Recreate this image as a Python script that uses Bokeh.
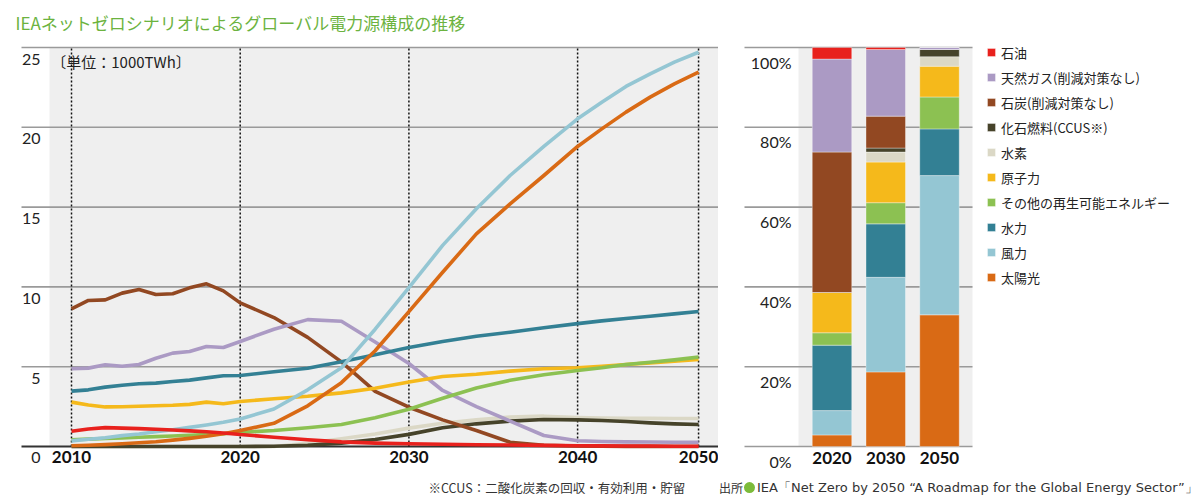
import numpy as np
from bokeh.plotting import figure
from bokeh.layouts import row
from bokeh.models import ColumnDataSource, Range1d, Legend, LegendItem, BoxAnnotation
from bokeh.core.properties import value
from bokeh.embed import file_html
from bokeh.resources import INLINE

# ---------------- data (1000 TWh) ----------------
years = [2010, 2011, 2012, 2013, 2014, 2015, 2016, 2017, 2018, 2019, 2020,
         2022, 2024, 2026, 2028, 2030, 2032, 2034, 2036, 2038, 2040,
         2042, 2044, 2046, 2048, 2050]

oil = [0.95, 1.10, 1.18, 1.15, 1.12, 1.08, 1.03, 0.98, 0.92, 0.85, 0.75,
       0.58, 0.42, 0.29, 0.21, 0.17, 0.14, 0.11, 0.09, 0.07, 0.05,
       0.04, 0.03, 0.03, 0.02, 0.02]
gas = [4.87, 4.91, 5.12, 5.03, 5.14, 5.53, 5.85, 5.95, 6.27, 6.20, 6.58,
       7.35, 7.95, 7.85, 6.55, 5.20, 3.51, 2.50, 1.59, 0.69, 0.36,
       0.31, 0.29, 0.28, 0.27, 0.27]
coal = [8.63, 9.15, 9.19, 9.61, 9.84, 9.52, 9.57, 9.94, 10.19, 9.75, 9.00,
        8.08, 6.84, 5.30, 3.45, 2.46, 1.67, 1.00, 0.27, 0.08, 0.03,
        0.02, 0.01, 0.01, 0.00, 0.00]
ccus = [0.00, 0.00, 0.00, 0.00, 0.00, 0.00, 0.00, 0.00, 0.00, 0.00, 0.00,
        0.02, 0.08, 0.21, 0.44, 0.76, 1.17, 1.42, 1.59, 1.69, 1.67,
        1.63, 1.57, 1.48, 1.42, 1.38]
hydrogen = [0.00, 0.00, 0.00, 0.00, 0.00, 0.00, 0.00, 0.00, 0.00, 0.00, 0.00,
            0.00, 0.20, 0.48, 0.78, 1.15, 1.46, 1.67, 1.84, 1.90, 1.82,
            1.78, 1.77, 1.76, 1.75, 1.75]
nuclear = [2.78, 2.60, 2.48, 2.49, 2.52, 2.55, 2.58, 2.64, 2.78, 2.68, 2.82,
           2.99, 3.15, 3.36, 3.65, 4.04, 4.39, 4.53, 4.72, 4.87, 4.93,
           5.03, 5.14, 5.24, 5.35, 5.45]
other_re = [0.42, 0.46, 0.50, 0.54, 0.58, 0.62, 0.66, 0.70, 0.75, 0.80, 0.88,
            1.00, 1.17, 1.38, 1.80, 2.33, 3.02, 3.66, 4.15, 4.50, 4.76,
            4.93, 5.14, 5.28, 5.43, 5.60]
hydro = [3.47, 3.55, 3.72, 3.84, 3.93, 3.97, 4.07, 4.16, 4.30, 4.43, 4.45,
         4.68, 4.90, 5.31, 5.75, 6.20, 6.58, 6.91, 7.16, 7.44, 7.70,
         7.87, 8.02, 8.16, 8.31, 8.46]
wind = [0.35, 0.45, 0.55, 0.68, 0.78, 0.92, 1.05, 1.20, 1.35, 1.52, 1.72,
        2.35, 3.55, 4.93, 7.35, 9.95, 12.60, 14.90, 16.98, 18.80, 20.53,
        21.57, 22.56, 23.35, 24.08, 24.70]
solar = [0.05, 0.08, 0.12, 0.17, 0.23, 0.30, 0.40, 0.51, 0.64, 0.80, 1.00,
         1.45, 2.55, 4.00, 6.00, 8.45, 10.92, 13.32, 15.20, 16.98, 18.80,
         19.90, 20.95, 21.89, 22.72, 23.45]

# shares (%) for the stacked bars
bar_years = ["2020", "2030", "2050"]
share_solar = [2.9, 18.7, 33.0]
share_wind = [6.1, 23.7, 34.9]
share_hydro = [16.4, 13.4, 11.7]
share_other = [3.1, 5.3, 8.0]
share_nuclear = [10.1, 10.2, 7.7]
share_hydrogen = [0.0, 2.5, 2.4]
share_ccus = [0.0, 1.0, 1.8]
share_coal = [35.2, 8.0, 0.0]
share_gas = [23.3, 16.7, 0.5]
share_oil = [2.9, 0.5, 0.0]

source_names = ["石油", "天然ガス(削減対策なし)", "石炭(削減対策なし)", "化石燃料(CCUS※)",
                "水素", "原子力", "その他の再生可能エネルギー", "水力", "風力", "太陽光"]

y_ticks = [0, 5, 10, 15, 20, 25]
y_tick_labels = ["0", "5", "10", "15", "20", "25"]
x_tick_years = [2010, 2020, 2030, 2040, 2050]
x_tick_labels = ["2010", "2020", "2030", "2040", "2050"]
pct_ticks = [0, 20, 40, 60, 80, 100]
pct_labels = ["0%", "20%", "40%", "60%", "80%", "100%"]

title_text = "IEAネットゼロシナリオによるグローバル電力源構成の推移"
unit_text = "〔単位：1000TWh〕"
note_text = "※CCUS：二酸化炭素の回収・有効利用・貯留"
src_head = "出所"
src_text = "IEA「Net Zero by 2050 “A Roadmap for the Global Energy Sector”」"

# ---------------- style ----------------
colors = ["#e8211d", "#ab9ac4", "#924822", "#46432a", "#dbd8c6",
          "#f5b91b", "#8cc152", "#338094", "#94c6d3", "#d96a15"]
GREY_BG = "#efefef"
GRID = "#9a9a9a"
JP = "Noto Sans CJK JP"
NUM = "Lato"

# the source chart draws the last decade (2040-2050) compressed
tick_pos = [0, 10, 20, 30, 37.17]


def xpos(yrs):
    return np.interp(yrs, x_tick_years, tick_pos)


series = {"oil": oil, "gas": gas, "coal": coal, "ccus": ccus, "hydrogen": hydrogen,
          "nuclear": nuclear, "other": other_re, "hydro": hydro, "wind": wind, "solar": solar}
keys = ["oil", "gas", "coal", "ccus", "hydrogen", "nuclear", "other", "hydro", "wind", "solar"]
color_of = dict(zip(keys, colors))

src = ColumnDataSource(dict(x=xpos(years), year=years, **series))

# ---------------- left: line chart ----------------
X0, X1 = -4.209, 38.352
GRID_L = -2.964
p1 = figure(width=718, height=499, x_range=Range1d(X0, X1), y_range=Range1d(-3.321, 27.945),
            output_backend="svg", toolbar_location=None, x_axis_location=None, y_axis_location=None,
            min_border_left=0, min_border_right=0, min_border_top=0, min_border_bottom=0)
p1.outline_line_color = None
p1.background_fill_color = "white"
p1.border_fill_color = "white"
p1.grid.visible = False

p1.add_layout(BoxAnnotation(left=-1.304, bottom=0, top=25, fill_color=GREY_BG, fill_alpha=1,
                            line_color=None, level="underlay"))
n_grid = len(y_ticks) - 1
p1.segment(x0=[GRID_L] * n_grid, y0=y_ticks[1:], x1=[X1] * n_grid, y1=y_ticks[1:],
           line_color=GRID, line_width=1.6)
p1.segment(x0=[GRID_L], y0=[y_ticks[0]], x1=[X1], y1=[y_ticks[0]], line_color="#333333", line_width=2)

p1.segment(x0=tick_pos, y0=[y_ticks[0]] * 5, x1=tick_pos, y1=[y_ticks[-1]] * 5,
           line_color="#111111", line_width=1.5, line_dash="2 2")

draw_order = ["hydrogen", "ccus", "coal", "gas", "nuclear", "other", "hydro", "wind", "solar", "oil"]
for k in draw_order:
    p1.line("x", k, source=src, line_color=color_of[k], line_width=3.6, line_join="round")

p1.text(x=[-3.32], y=[26.566], text=[title_text], text_font=value(JP), text_font_size="17px",
        text_baseline="middle", text_color="#6cb33f")
p1.text(x=[-1.838] * len(y_ticks), y=y_ticks, text=y_tick_labels, text_font=value(NUM),
        text_font_size="16px", text_align="right", text_baseline="top", y_offset=6, text_color="#222222")
p1.text(x=tick_pos, y=[0] * 5, text=x_tick_labels, text_font=value(NUM), text_font_style="bold",
        text_font_size="17px", text_align="center", text_baseline="top", y_offset=5, text_color="#111111")
p1.text(x=[-1.2], y=[25], text=[unit_text], text_font=value(JP), text_font_size="15px",
        text_baseline="top", y_offset=3, text_color="#222222")
p1.text(x=[21.16], y=[-2.57], text=[note_text], text_font=value(JP), text_font_size="12.5px",
        text_baseline="middle", text_color="#333333")

# ---------------- right: stacked bars ----------------
p2 = figure(width=482, height=499, x_range=Range1d(-2.1116, 6.8558), y_range=Range1d(-13.28, 111.78),
            output_backend="svg", toolbar_location=None, x_axis_location=None, y_axis_location=None,
            min_border_left=0, min_border_right=0, min_border_top=0, min_border_bottom=0)
p2.outline_line_color = None
p2.background_fill_color = "white"
p2.border_fill_color = "white"
p2.grid.visible = False

p2.add_layout(BoxAnnotation(left=-0.623, right=2.614, bottom=0, top=100, fill_color=GREY_BG,
                            fill_alpha=1, line_color=None, level="underlay"))
p2.segment(x0=[-1.628] * len(pct_ticks), y0=pct_ticks, x1=[2.614] * len(pct_ticks), y1=pct_ticks,
           line_color=GRID, line_width=1.6)

bar_src = ColumnDataSource(dict(x=[0, 1, 2], year=bar_years, solar=share_solar, wind=share_wind,
                                hydro=share_hydro, other=share_other, nuclear=share_nuclear,
                                hydrogen=share_hydrogen, ccus=share_ccus, coal=share_coal,
                                gas=share_gas, oil=share_oil))
stack_keys = list(reversed(keys))  # solar at bottom ... oil at top
bars = p2.vbar_stack(stack_keys, x="x", width=0.735, source=bar_src,
                     color=[color_of[k] for k in stack_keys],
                     line_color="white", line_alpha=0.45, line_width=0.8)
bar_of = dict(zip(stack_keys, bars))

p2.text(x=[-0.7535] * len(pct_ticks), y=pct_ticks, text=pct_labels, text_font=value(NUM),
        text_font_size="16px", text_align="right", text_baseline="top", y_offset=5, text_color="#222222")
p2.text(x=[0, 1, 2], y=[0, 0, 0], text=bar_years, text_font=value(NUM), text_font_style="bold",
        text_font_size="17px", text_align="center", text_baseline="top", y_offset=5, text_color="#111111")

p2.text(x=[-2.10], y=[-10.28], text=[src_head], text_font=value(JP), text_font_size="12px",
        text_baseline="middle", text_color="#333333")
p2.scatter(x=[-1.535], y=[-10.28], marker="circle", size=11, fill_color="#7cbb3a", line_color=None)
p2.text(x=[-1.395], y=[-10.28], text=[src_text], text_font=value("DejaVu Sans"), text_font_size="13px",
        text_baseline="middle", text_color="#333333")

legend = Legend(items=[LegendItem(label=name, renderers=[bar_of[k]]) for name, k in zip(source_names, keys)],
                location=(268, 212), orientation="vertical", padding=0, margin=0,
                border_line_color=None, background_fill_alpha=0,
                glyph_width=10, glyph_height=10, label_height=20, spacing=5, label_standoff=5,
                label_text_font=JP, label_text_font_size="13px", label_text_color="#222222")
p2.add_layout(legend)

layout = row(p1, p2)
open("out.html", "w").write(file_html(layout, INLINE))
